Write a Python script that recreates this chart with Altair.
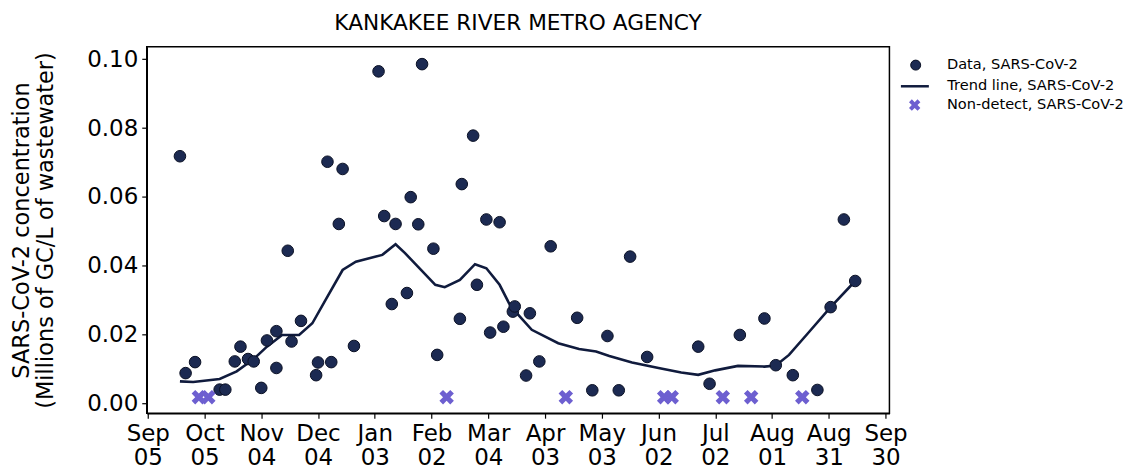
import altair as alt
import pandas as pd

# ---- data ----
data_dates = [
    "2022-09-22", "2022-09-25", "2022-09-30", "2022-10-13", "2022-10-16",
    "2022-10-21", "2022-10-24", "2022-10-28", "2022-10-31", "2022-11-04",
    "2022-11-07", "2022-11-12", "2022-11-12", "2022-11-18", "2022-11-20",
    "2022-11-25", "2022-12-03", "2022-12-04", "2022-12-09", "2022-12-11",
    "2022-12-15", "2022-12-17", "2022-12-23", "2023-01-05", "2023-01-08",
    "2023-01-12", "2023-01-14", "2023-01-20", "2023-01-22", "2023-01-26",
    "2023-01-28", "2023-02-03", "2023-02-05", "2023-02-17", "2023-02-18",
    "2023-02-24", "2023-02-26", "2023-03-03", "2023-03-05", "2023-03-10",
    "2023-03-12", "2023-03-17", "2023-03-18", "2023-03-24", "2023-03-26",
    "2023-03-31", "2023-04-06", "2023-04-20", "2023-04-28", "2023-05-06",
    "2023-05-12", "2023-05-18", "2023-05-27", "2023-06-23", "2023-06-29",
    "2023-07-15", "2023-07-28", "2023-08-03", "2023-08-12", "2023-08-25",
    "2023-09-01", "2023-09-08", "2023-09-14",
]
data_values = [
    0.0718, 0.0087, 0.0119, 0.0039, 0.0039,
    0.0121, 0.0164, 0.0128, 0.0121, 0.0044,
    0.0182, 0.0102, 0.0209, 0.0443, 0.0179,
    0.0239, 0.0081, 0.0118, 0.0702, 0.0119,
    0.0521, 0.0681, 0.0166, 0.0965, 0.0544,
    0.0288, 0.0521, 0.0320, 0.0599, 0.0520,
    0.0986, 0.0449, 0.0140, 0.0245, 0.0637,
    0.0778, 0.0344, 0.0534, 0.0205, 0.0526,
    0.0222, 0.0266, 0.0281, 0.0080, 0.0261,
    0.0121, 0.0456, 0.0248, 0.0037, 0.0195,
    0.0037, 0.0426, 0.0134, 0.0164, 0.0056,
    0.0198, 0.0246, 0.0110, 0.0081, 0.0038,
    0.0279, 0.0534, 0.0355,
]

nd_dates = [
    "2022-10-02", "2022-10-07", "2023-02-10", "2023-04-14", "2023-06-05",
    "2023-06-09", "2023-07-06", "2023-07-21", "2023-08-17",
]
nd_values = [0.0017, 0.0017, 0.0017, 0.0017, 0.0017, 0.0017, 0.0017, 0.0017, 0.0017]

trend_dates = [
    "2022-09-22", "2022-09-29", "2022-10-13", "2022-10-22", "2022-10-31",
    "2022-11-07", "2022-11-15", "2022-11-24", "2022-12-01", "2022-12-08",
    "2022-12-17", "2022-12-24", "2023-01-07", "2023-01-14", "2023-01-19",
    "2023-02-04", "2023-02-09", "2023-02-17", "2023-02-25", "2023-03-03",
    "2023-03-10", "2023-03-15", "2023-03-18", "2023-03-27", "2023-04-10",
    "2023-04-21", "2023-04-30", "2023-05-07", "2023-05-19", "2023-06-02",
    "2023-06-14", "2023-06-23", "2023-07-02", "2023-07-14", "2023-07-28",
    "2023-08-03", "2023-08-10", "2023-08-20", "2023-09-01", "2023-09-14",
]
trend_values = [
    0.0063, 0.0061, 0.0070, 0.0092, 0.0128,
    0.0164, 0.0198, 0.0198, 0.0232, 0.0300,
    0.0387, 0.0411, 0.0431, 0.0462, 0.0436,
    0.0344, 0.0337, 0.0358, 0.0404, 0.0392,
    0.0344, 0.0290, 0.0268, 0.0213, 0.0174,
    0.0157, 0.0150, 0.0137, 0.0118, 0.0102,
    0.0089, 0.0082, 0.0095, 0.0108, 0.0106,
    0.0109, 0.0140, 0.0203, 0.0279, 0.0355,
]

tick_dates = [
    "2022-09-05", "2022-10-05", "2022-11-04", "2022-12-04", "2023-01-03",
    "2023-02-02", "2023-03-04", "2023-04-03", "2023-05-03", "2023-06-02",
    "2023-07-02", "2023-08-01", "2023-08-31", "2023-09-30",
]
y_ticks = [0.0, 0.02, 0.04, 0.06, 0.08, 0.10]

title_text = "KANKAKEE RIVER METRO AGENCY"
y_title = ["SARS-CoV-2 concentration", "(Millions of GC/L of wastewater)"]
lbl_data = "Data, SARS-CoV-2"
lbl_trend = "Trend line, SARS-CoV-2"
lbl_nd = "Non-detect, SARS-CoV-2"

FONT = "DejaVu Sans"
NAVY = "#1c2a52"
LINE = "#101b3d"
PURPLE = "#6d5fd0"
XPATH = "M1,0.5L0.5,1L0,0.5L-0.5,1L-1,0.5L-0.5,0L-1,-0.5L-0.5,-1L0,-0.5L0.5,-1L1,-0.5L0.5,0Z"


def dt(s, hours=0):
    y, m, d = (int(p) for p in s.split("-"))
    return alt.DateTime(year=y, month=m, date=d, hours=hours)


def frame(dates, values, label):
    return pd.DataFrame({
        "date": [d + "T00:00:00" for d in dates],
        "value": values,
        "series": [label] * len(values),
    })


df_data = frame(data_dates, data_values, lbl_data)
df_nd = frame(nd_dates, nd_values, lbl_nd)
df_trend = frame(trend_dates, trend_values, lbl_trend)

x_enc = alt.X(
    "date:T",
    title=None,
    scale=alt.Scale(domain=[dt("2022-09-04", 11), dt("2023-10-02", 2)]),
    axis=alt.Axis(
        values=[dt(s) for s in tick_dates],
        labelExpr="[timeFormat(datum.value, '%b'), timeFormat(datum.value, '%d')]",
        labelLineHeight=24,
        labelPadding=4,
        labelAngle=0,
        labelFlush=False,
        labelOverlap=False,
        grid=False,
    ),
)
y_enc = alt.Y(
    "value:Q",
    scale=alt.Scale(domain=[-0.00296, 0.10363], nice=False, zero=False),
    axis=alt.Axis(
        values=y_ticks,
        format=".2f",
        title=y_title,
        titleX=-118,
        titleY=183.5,
        titleAngle=270,
        titleAlign="center",
        titleBaseline="alphabetic",
        titleLineHeight=24,
        labelPadding=4,
        grid=False,
    ),
)

common_legend = dict(
    title=None,
    orient="none",
    padding=0,
    labelFont=FONT,
    labelFontSize=14.6,
    labelColor="black",
    labelLimit=400,
)

points = alt.Chart(df_data).mark_point(
    filled=True, size=135, opacity=1, stroke="#0a1024", strokeWidth=1
).encode(
    x=x_enc,
    y=y_enc,
    fill=alt.Fill(
        "series:N",
        scale=alt.Scale(domain=[lbl_data], range=[NAVY]),
        legend=alt.Legend(
            legendX=763, legendY=11, symbolType="circle", symbolSize=100,
            symbolFillColor=NAVY, symbolStrokeColor="#0a1024", symbolStrokeWidth=1,
            labelOffset=24, **common_legend,
        ),
    ),
)

trend = alt.Chart(df_trend).mark_line(strokeWidth=2.6).encode(
    x=x_enc,
    y=y_enc,
    stroke=alt.Stroke(
        "series:N",
        scale=alt.Scale(domain=[lbl_trend], range=[LINE]),
        legend=alt.Legend(
            legendX=754, legendY=24, symbolType="stroke", symbolSize=784,
            symbolStrokeWidth=2.5, labelOffset=17, **common_legend,
        ),
    ),
)

nondetect = alt.Chart(df_nd).mark_point(
    filled=True, size=210, opacity=1, color=PURPLE
).encode(
    x=x_enc,
    y=y_enc,
    shape=alt.Shape(
        "series:N",
        scale=alt.Scale(domain=[lbl_nd], range=[XPATH]),
        legend=alt.Legend(
            legendX=762, legendY=51, symbolSize=130,
            symbolFillColor=PURPLE, symbolStrokeWidth=0,
            labelOffset=25, **common_legend,
        ),
    ),
)

chart = alt.layer(trend, points, nondetect).resolve_scale(
    fill="independent", stroke="independent", shape="independent"
).properties(
    width=744,
    height=367,
    background="white",
    title=alt.TitleParams(
        title_text, font=FONT, fontSize=21.7, fontWeight="normal",
        color="black", anchor="middle", offset=12,
    ),
    autosize=alt.AutoSizeParams(type="none"),
    padding={"left": 139, "top": 38.5, "right": 241, "bottom": 60},
).configure_axis(
    domainColor="black",
    domainWidth=1.5,
    tickColor="black",
    tickSize=5,
    tickWidth=1.2,
    labelFont=FONT,
    labelFontSize=23,
    labelColor="black",
    titleFont=FONT,
    titleFontSize=22.5,
    titleFontWeight="normal",
    titleColor="black",
).configure_view(
    stroke="black",
    strokeWidth=1.5,
)

chart.save("out.html", embed_options={"renderer": "svg", "actions": False})
